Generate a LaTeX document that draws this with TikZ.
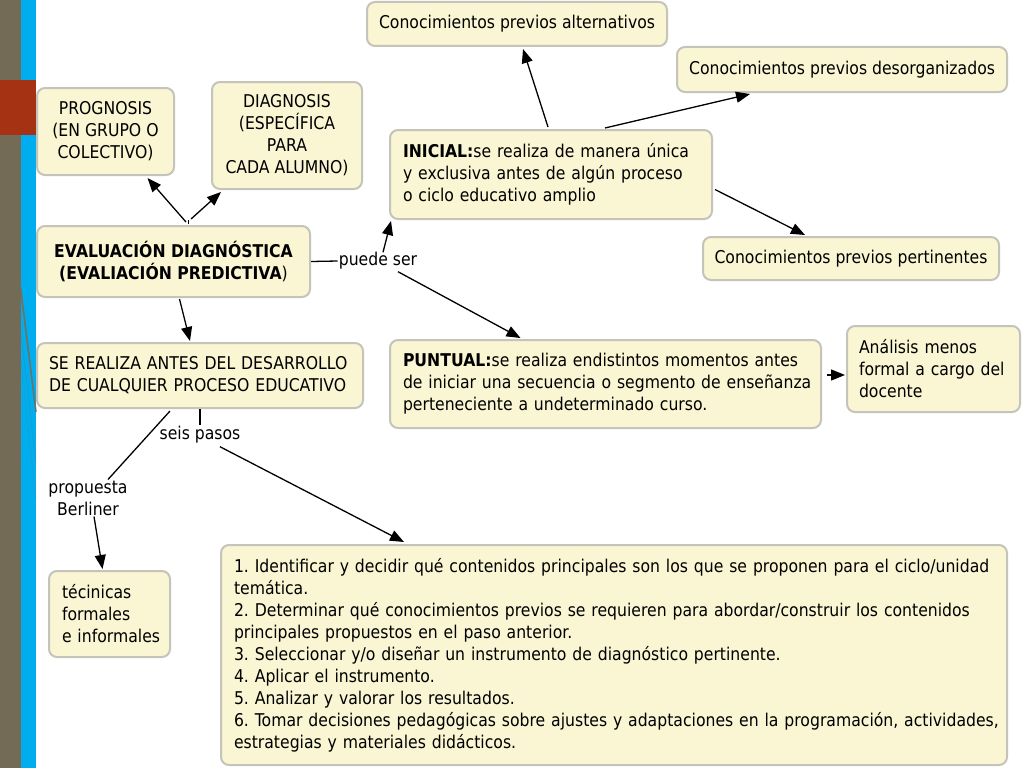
\documentclass[tikz,border=0pt]{standalone}
\usepackage{fontspec}
\setmainfont{DejaVu Sans}[FakeStretch=0.89]
\usetikzlibrary{arrows.meta,calc}
\definecolor{stripolive}{RGB}{115,107,85}
\definecolor{stripblue}{RGB}{0,174,239}
\definecolor{stripred}{RGB}{166,50,20}
\definecolor{boxfill}{RGB}{250,245,210}
\definecolor{boxgray}{RGB}{196,196,186}
\frenchspacing
\begin{document}
\begin{tikzpicture}[x=1pt,y=-1pt,
  box/.style={draw=boxgray, line width=2pt, fill=boxfill, rounded corners=8pt,
    font=\fontsize{17.6}{22}\selectfont, inner sep=0pt},
  lbl/.style={font=\fontsize{17.6}{22}\selectfont, inner sep=1pt, align=center},
  arr/.style={line width=1.3pt, -{Triangle[length=14pt,width=11pt]}},
  ln/.style={line width=1.3pt}]
\useasboundingbox (0,0) rectangle (1024,768);
\fill[white] (0,0) rectangle (1024,768);
% left strip
\fill[stripolive] (0,0) rectangle (21,768);
\fill[stripblue] (21,0) rectangle (36,768);
\fill[stripred] (0,80) rectangle (36,135);
\draw[stripolive!85!gray, line width=1.5pt] (20,283) -- (36,412);
\draw[stripolive, opacity=0.25, line width=0.8pt] (21,333) -- (36,463);
\draw[stripolive, opacity=0.2, line width=0.8pt] (21,360) -- (36,500);

% nodes
\node[box, minimum width=300pt, minimum height=44pt, align=center] (cpa) at (517,24) {Conocimientos previos alternativos};
\node[box, minimum width=330pt, minimum height=45pt, align=center] (cpd) at (842,69.5) {Conocimientos previos desorganizados};
\node[box, minimum width=137pt, minimum height=87pt, align=center] (prog) at (105.5,131.5) {PROGNOSIS\\(EN GRUPO O\\COLECTIVO)};
\node[box, minimum width=150pt, minimum height=107pt, align=center] (diag) at (287,135.5) {DIAGNOSIS\\(ESPECÍFICA\\PARA\\CADA ALUMNO)};
\node[box, minimum width=322pt, minimum height=89pt, text width=296pt, align=left] (init) at (551,174.5) {\mbox{\textbf{INICIAL:}se realiza de manera única}\\\mbox{y exclusiva antes de algún proceso}\\\mbox{o ciclo educativo amplio}};
\node[box, minimum width=273pt, minimum height=71pt, align=center] (eval) at (173.5,261.5) {\textbf{EVALUACIÓN DIAGNÓSTICA}\\\textbf{(EVALIACIÓN PREDICTIVA})};
\node[box, minimum width=296pt, minimum height=43pt, align=center] (cpp) at (851,258.5) {Conocimientos previos pertinentes};
\node[box, minimum width=326pt, minimum height=65pt, text width=302pt, align=left] (se) at (200,375.5) {\mbox{SE REALIZA ANTES DEL DESARROLLO}\\\mbox{DE CUALQUIER PROCESO EDUCATIVO}};
\node[box, minimum width=431pt, minimum height=88pt, text width=405pt, align=left] (punt) at (605.5,384) {\mbox{\textbf{PUNTUAL:}se realiza endistintos momentos antes}\\\mbox{de iniciar una secuencia o segmento de enseñanza}\\\mbox{perteneciente a undeterminado curso.}};
\node[box, minimum width=173pt, minimum height=86pt, text width=149pt, align=left] (anal) at (933.5,369) {\mbox{Análisis menos}\\\mbox{formal a cargo del}\\\mbox{docente}};
\node[box, minimum width=786pt, minimum height=220pt, text width=760pt, align=left] (steps) at (614,655) {\mbox{1. Identificar y decidir qué contenidos principales son los que se proponen para el ciclo/unidad}\\\mbox{temática.}\\\mbox{2. Determinar qué conocimientos previos se requieren para abordar/construir los contenidos}\\\mbox{principales propuestos en el paso anterior.}\\\mbox{3. Seleccionar y/o diseñar un instrumento de diagnóstico pertinente.}\\\mbox{4. Aplicar el instrumento.}\\\mbox{5. Analizar y valorar los resultados.}\\\mbox{6. Tomar decisiones pedagógicas sobre ajustes y adaptaciones en la programación, actividades,}\\\mbox{estrategias y materiales didácticos.}};
\node[box, minimum width=121pt, minimum height=86pt, text width=95pt, align=left] (tec) at (109.5,614) {\mbox{técinicas}\\\mbox{formales}\\\mbox{e informales}};

% linking phrases
\node[lbl] (pts) at (378,261) {puede ser};
\node[lbl] (seis) at (200,435) {seis pasos};
\node[lbl] (prop) at (88,498) {propuesta\\Berliner};
\coordinate (hub) at (188,220);

% connectors
\draw[ln] (eval.east) -- (pts.west);
\draw[arr] ($(pts.north)+(5,1)$) -- ($(init.south west)+(2,1)$);
\draw[arr] ($(pts.south)+(20,1)$) -- ($(punt.north)+(-85,-1)$);
\draw[arr] ($(init.north)+(-3,-2)$) -- ($(cpa.south)+(6,2)$);
\draw[arr] ($(init.north)+(54,-1)$) -- ($(cpd.south)+(-92,1)$);
\draw[arr] ($(init.east)+(2,15)$) -- ($(cpp.north)+(-46,-1)$);
\draw[arr] ($(punt.east)+(5,-9)$) -- ($(anal.west)+(-1,6)$);
\draw[line width=0.8pt] ($(eval.north)+(14.5,-1)$) -- (hub);
\draw[arr] ($(hub)+(-2,2)$) -- ($(prog.south)+(42,2)$);
\draw[arr] ($(hub)+(3,-1)$) -- ($(diag.south west)+(10,2)$);
\draw[arr] ($(eval.south)+(6,1)$) -- ($(se.north)+(-10,-1)$);
\draw[ln] (se.south) -- (seis.north);
\draw[arr] ($(seis.south)+(20,2)$) -- ($(steps.north west)+(184,-2)$);
\draw[ln] ($(se.south)+(-30,2)$) -- ($(prop.north)+(20,0)$);
\draw[arr] ($(prop.south)+(6,0)$) -- ($(tec.north)+(-7,-1)$);
\end{tikzpicture}
\end{document}
